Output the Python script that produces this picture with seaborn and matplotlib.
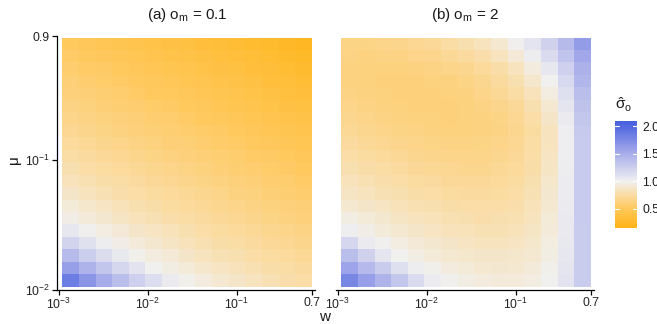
import numpy as np
import pandas as pd
import matplotlib
matplotlib.use("Agg")
import matplotlib.pyplot as plt
import seaborn as sns
from matplotlib.colors import LinearSegmentedColormap

# ---------------- data ----------------
# log10 of the cell centres
log10_w = [-2.867, -2.680, -2.493, -2.307, -2.120, -1.933, -1.747, -1.560,
           -1.373, -1.187, -1.000, -0.813, -0.627, -0.440, -0.253]
log10_mu = [-1.927, -1.831, -1.735, -1.639, -1.543, -1.447, -1.351, -1.255,
            -1.159, -1.063, -0.967, -0.871, -0.775, -0.679, -0.583, -0.487,
            -0.391, -0.295, -0.199, -0.103]

# rows: mu from low (first) to high (last); columns: w from low to high
sigma_a = [
    [1.85, 1.68, 1.52, 1.38, 1.24, 1.14, 1.04, 0.98, 0.94, 0.90, 0.87, 0.84, 0.81, 0.78, 0.76],
    [1.61, 1.46, 1.32, 1.19, 1.10, 1.00, 0.96, 0.92, 0.88, 0.85, 0.83, 0.80, 0.77, 0.75, 0.73],
    [1.40, 1.26, 1.15, 1.06, 0.98, 0.94, 0.91, 0.87, 0.84, 0.81, 0.79, 0.76, 0.74, 0.72, 0.70],
    [1.21, 1.11, 1.02, 0.97, 0.93, 0.89, 0.86, 0.83, 0.80, 0.77, 0.75, 0.73, 0.71, 0.69, 0.67],
    [1.07, 0.99, 0.95, 0.91, 0.87, 0.85, 0.82, 0.79, 0.76, 0.74, 0.72, 0.70, 0.68, 0.66, 0.64],
    [0.97, 0.93, 0.89, 0.86, 0.83, 0.81, 0.78, 0.75, 0.73, 0.71, 0.69, 0.67, 0.65, 0.63, 0.61],
    [0.92, 0.88, 0.85, 0.82, 0.79, 0.77, 0.74, 0.72, 0.70, 0.68, 0.66, 0.64, 0.62, 0.61, 0.59],
    [0.87, 0.84, 0.81, 0.78, 0.76, 0.74, 0.72, 0.70, 0.68, 0.66, 0.63, 0.62, 0.60, 0.58, 0.56],
    [0.83, 0.80, 0.77, 0.75, 0.73, 0.71, 0.69, 0.67, 0.65, 0.63, 0.61, 0.59, 0.57, 0.56, 0.54],
    [0.79, 0.76, 0.74, 0.72, 0.70, 0.68, 0.66, 0.64, 0.62, 0.60, 0.58, 0.57, 0.55, 0.53, 0.52],
    [0.75, 0.73, 0.71, 0.69, 0.67, 0.65, 0.63, 0.61, 0.59, 0.58, 0.56, 0.54, 0.53, 0.51, 0.49],
    [0.72, 0.70, 0.68, 0.66, 0.64, 0.62, 0.60, 0.59, 0.57, 0.55, 0.54, 0.52, 0.50, 0.48, 0.46],
    [0.69, 0.67, 0.65, 0.63, 0.61, 0.60, 0.58, 0.56, 0.55, 0.53, 0.51, 0.49, 0.47, 0.45, 0.43],
    [0.66, 0.64, 0.62, 0.61, 0.59, 0.57, 0.56, 0.54, 0.52, 0.50, 0.48, 0.46, 0.44, 0.42, 0.40],
    [0.64, 0.62, 0.60, 0.58, 0.57, 0.55, 0.53, 0.51, 0.50, 0.47, 0.45, 0.43, 0.41, 0.39, 0.37],
    [0.61, 0.59, 0.58, 0.56, 0.54, 0.52, 0.51, 0.49, 0.47, 0.45, 0.43, 0.41, 0.38, 0.36, 0.34],
    [0.59, 0.57, 0.55, 0.53, 0.52, 0.50, 0.48, 0.46, 0.44, 0.42, 0.40, 0.38, 0.35, 0.33, 0.31],
    [0.56, 0.54, 0.53, 0.51, 0.49, 0.47, 0.45, 0.43, 0.41, 0.39, 0.37, 0.35, 0.33, 0.30, 0.28],
    [0.54, 0.52, 0.50, 0.48, 0.46, 0.44, 0.42, 0.40, 0.38, 0.36, 0.34, 0.32, 0.30, 0.27, 0.25],
    [0.51, 0.49, 0.47, 0.45, 0.43, 0.41, 0.39, 0.37, 0.35, 0.33, 0.31, 0.29, 0.27, 0.24, 0.22],
]

sigma_b = [
    [1.78, 1.61, 1.46, 1.31, 1.16, 1.03, 0.99, 0.96, 0.94, 0.93, 0.93, 0.95, 1.00, 1.10, 1.27],
    [1.57, 1.42, 1.27, 1.12, 1.02, 0.98, 0.94, 0.92, 0.90, 0.89, 0.90, 0.93, 0.98, 1.08, 1.27],
    [1.38, 1.23, 1.08, 1.00, 0.96, 0.92, 0.90, 0.88, 0.87, 0.87, 0.88, 0.90, 0.96, 1.07, 1.27],
    [1.19, 1.04, 0.99, 0.95, 0.91, 0.89, 0.87, 0.85, 0.84, 0.84, 0.85, 0.88, 0.95, 1.06, 1.27],
    [1.01, 0.97, 0.93, 0.90, 0.87, 0.85, 0.83, 0.82, 0.81, 0.81, 0.82, 0.86, 0.93, 1.05, 1.27],
    [0.96, 0.92, 0.89, 0.86, 0.84, 0.82, 0.80, 0.79, 0.78, 0.79, 0.80, 0.84, 0.92, 1.05, 1.28],
    [0.90, 0.87, 0.85, 0.82, 0.80, 0.79, 0.77, 0.76, 0.76, 0.76, 0.78, 0.82, 0.90, 1.04, 1.28],
    [0.86, 0.84, 0.81, 0.79, 0.77, 0.76, 0.74, 0.73, 0.73, 0.74, 0.76, 0.81, 0.89, 1.03, 1.28],
    [0.83, 0.80, 0.78, 0.76, 0.74, 0.73, 0.71, 0.71, 0.71, 0.72, 0.74, 0.79, 0.88, 1.03, 1.28],
    [0.79, 0.77, 0.75, 0.73, 0.71, 0.70, 0.69, 0.68, 0.68, 0.70, 0.72, 0.77, 0.86, 1.02, 1.28],
    [0.76, 0.74, 0.72, 0.70, 0.68, 0.67, 0.66, 0.66, 0.66, 0.68, 0.71, 0.76, 0.85, 1.01, 1.28],
    [0.73, 0.71, 0.69, 0.67, 0.66, 0.65, 0.64, 0.64, 0.65, 0.66, 0.69, 0.75, 0.84, 1.01, 1.28],
    [0.70, 0.68, 0.66, 0.65, 0.64, 0.63, 0.62, 0.62, 0.63, 0.64, 0.68, 0.74, 0.84, 1.01, 1.29],
    [0.68, 0.66, 0.64, 0.63, 0.62, 0.62, 0.61, 0.62, 0.63, 0.65, 0.69, 0.76, 0.87, 1.04, 1.31],
    [0.66, 0.64, 0.63, 0.62, 0.61, 0.61, 0.61, 0.62, 0.64, 0.67, 0.71, 0.79, 0.90, 1.08, 1.34],
    [0.64, 0.63, 0.62, 0.61, 0.61, 0.61, 0.62, 0.63, 0.66, 0.70, 0.75, 0.83, 0.95, 1.12, 1.38],
    [0.63, 0.62, 0.61, 0.61, 0.61, 0.62, 0.63, 0.65, 0.68, 0.73, 0.79, 0.88, 1.00, 1.17, 1.43],
    [0.63, 0.62, 0.62, 0.62, 0.63, 0.64, 0.66, 0.68, 0.72, 0.77, 0.84, 0.94, 1.07, 1.24, 1.48],
    [0.64, 0.63, 0.64, 0.64, 0.66, 0.67, 0.70, 0.73, 0.78, 0.84, 0.91, 1.02, 1.16, 1.33, 1.55],
    [0.65, 0.65, 0.66, 0.67, 0.69, 0.71, 0.75, 0.79, 0.84, 0.90, 0.99, 1.09, 1.23, 1.41, 1.62],
]

panel_titles = [r"(a) o$_{\mathrm{m}}$ = 0.1", r"(b) o$_{\mathrm{m}}$ = 2"]
w_ticks = [1e-3, 1e-2, 1e-1, 0.7]
w_ticklabels = [r"10$^{-3}$", r"10$^{-2}$", r"10$^{-1}$", "0.7"]
mu_ticks = [1e-2, 1e-1, 0.9]
mu_ticklabels = [r"10$^{-2}$", r"10$^{-1}$", "0.9"]
cbar_ticks = [0.5, 1.0, 1.5, 2.0]
cbar_ticklabels = ["0.5", "1.0", "1.5", "2.0"]
value_range = (0.147, 2.10)

# ---------------- style ----------------
sns.set_theme(style="white")
plt.rcParams["font.family"] = ["Liberation Sans", "DejaVu Sans"]
plt.rcParams["mathtext.fontset"] = "custom"
plt.rcParams["mathtext.rm"] = "Liberation Sans"
plt.rcParams["mathtext.it"] = "Liberation Sans:italic"
plt.rcParams["mathtext.bf"] = "Liberation Sans:bold"

TICK_FS = 8.8
LAB_FS = 11

vmin, vmax = value_range
stops = [(0.147, "#FFB416"), (0.5, "#FFC85C"), (0.75, "#FADCA4"),
         (1.0, "#F0F0F0"), (1.5, "#A9AEEA"), (2.0, "#5369E0"), (2.1, "#4660DE")]
cmap = LinearSegmentedColormap.from_list(
    "og", [((v - vmin) / (vmax - vmin), c) for v, c in stops])

W, H = 657, 324
fig = plt.figure(figsize=(W / 100, H / 100), dpi=100)


def rect(x0, y0, x1, y1):
    return [x0 / W, 1 - y1 / H, (x1 - x0) / W, (y1 - y0) / H]


ax1 = fig.add_axes(rect(57, 36, 315, 290))
ax2 = fig.add_axes(rect(336, 36, 594, 290))
cax = fig.add_axes(rect(615, 121, 637, 228))

dw = log10_w[1] - log10_w[0]
dmu = log10_mu[1] - log10_mu[0]


def wx(v):
    return (np.log10(v) - log10_w[0]) / dw + 0.5


def my(v):
    return (np.log10(v) - log10_mu[0]) / dmu + 0.5


for k, (ax, data) in enumerate(zip([ax1, ax2], [sigma_a, sigma_b])):
    df = pd.DataFrame(data, index=log10_mu, columns=log10_w)
    if k == 0:
        sns.heatmap(df, ax=ax, cmap=cmap, vmin=vmin, vmax=vmax, cbar=True,
                    cbar_ax=cax, xticklabels=False, yticklabels=False,
                    linewidths=0)
    else:
        sns.heatmap(df, ax=ax, cmap=cmap, vmin=vmin, vmax=vmax, cbar=False,
                    xticklabels=False, yticklabels=False, linewidths=0)
    ax.set_xlim(wx(10 ** -3.02), wx(10 ** -0.12))
    ax.set_ylim(my(0.01), my(0.905))
    ax.set_xlabel("")
    ax.set_ylabel("")
    ax.set_xticks([wx(t) for t in w_ticks])
    ax.set_xticklabels(w_ticklabels, rotation=0)
    for side in ["top", "right", "left", "bottom"]:
        ax.spines[side].set_visible(False)
    ax.spines["bottom"].set_visible(True)
    ax.spines["bottom"].set_color("black")
    ax.spines["bottom"].set_linewidth(0.9)
    ax.tick_params(axis="x", direction="out", length=3.5, width=0.9,
                   color="black", labelsize=TICK_FS, labelcolor="#222222",
                   pad=1.5, bottom=True)
    ax.set_title("")
    ax.set_facecolor("white")

ax1.set_yticks([my(t) for t in mu_ticks])
ax1.set_yticklabels(mu_ticklabels, rotation=0)
ax1.spines["left"].set_visible(True)
ax1.spines["left"].set_color("black")
ax1.spines["left"].set_linewidth(0.9)
ax1.tick_params(axis="y", direction="out", length=3.5, width=0.9,
                color="black", labelsize=TICK_FS, labelcolor="#222222",
                pad=1.5, left=True)
ax2.set_yticks([])

# titles and axis labels
fig.text(187 / W, 1 - 15 / H, panel_titles[0], ha="center", va="center",
         fontsize=LAB_FS, color="#1a1a1a")
fig.text(465 / W, 1 - 15 / H, panel_titles[1], ha="center", va="center",
         fontsize=LAB_FS, color="#1a1a1a")
fig.text(14 / W, 1 - 160 / H, "μ", rotation=90, ha="center", va="center",
         fontsize=LAB_FS, color="#1a1a1a")
fig.text(325 / W, 1 - 317 / H, "w", ha="center", va="center",
         fontsize=LAB_FS, color="#1a1a1a")
fig.text(615 / W, 1 - 105 / H, r"$\hat{\mathrm{\sigma}}_{\mathrm{o}}$",
         ha="left", va="center", fontsize=LAB_FS, color="#1a1a1a")

# colourbar styling
cbar = ax1.collections[0].colorbar
cbar.set_ticks(cbar_ticks)
cbar.set_ticklabels(cbar_ticklabels)
cbar.outline.set_visible(False)
cax.tick_params(length=0, labelsize=TICK_FS, pad=4, labelcolor="#1a1a1a")
for t in cbar_ticks:
    cax.axhline(t, xmin=0, xmax=0.2, color="white", lw=0.8)
    cax.axhline(t, xmin=0.8, xmax=1.0, color="white", lw=0.8)

fig.savefig("out.png", dpi=100, facecolor="white")
